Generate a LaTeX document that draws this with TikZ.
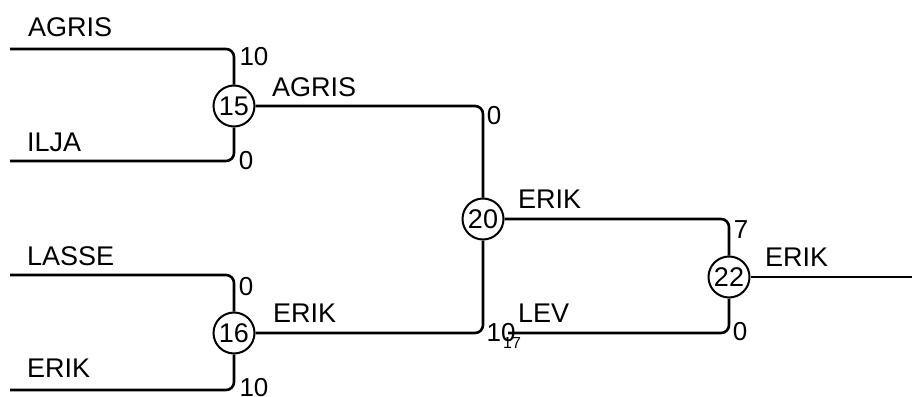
\documentclass[tikz,border=0pt]{standalone}
\usepackage{fontspec}
\setmainfont{Liberation Sans}
\begin{document}
\begin{tikzpicture}[x=1pt, y=-1pt,
    match/.style={circle, draw, line width=2pt, minimum size=41pt,
        inner sep=0pt, font=\fontsize{27}{27}\selectfont},
    wire/.style={line width=2.6pt, rounded corners=8pt},
    who/.style={anchor=base west, inner sep=0pt, font=\fontsize{27}{27}\selectfont},
    pts/.style={inner sep=0pt, font=\fontsize{26}{26}\selectfont},
    tiny/.style={inner sep=0pt, font=\fontsize{16}{16}\selectfont}
]
    \useasboundingbox (0,0) rectangle (912,396);

    % Round 1 entries
    \coordinate (p1) at (10,49);
    \coordinate (p2) at (10,161);
    \coordinate (p3) at (10,275);
    \coordinate (p4) at (10,390);
    \node[who] (n1) at (28,37) {AGRIS};
    \node[who] (n2) at (27,151) {ILJA};
    \node[who] (n3) at (27,265) {LASSE};
    \node[who] (n4) at (27,377) {ERIK};

    % Round 1 matches
    \node[match] (m15) at (234,106) {15};
    \node[match] (m16) at (234,333) {16};
    \draw[wire] (p1) -| (m15);
    \draw[wire] (p2) -| (m15);
    \draw[wire] (p3) -| (m16);
    \draw[wire] (p4) -| (m16);
    \node[pts] (s1) at (254,57) {10};
    \node[pts] (s2) at (246,161) {0};
    \node[pts] (s3) at (246,287) {0};
    \node[pts] (s4) at (254,388) {10};

    % Round 2
    \node[match] (m20) at (483,219) {20};
    \draw[wire] (m15) -| (m20);
    \draw[wire] (m16) -| (m20);
    \node[who] (n5) at (272,96) {AGRIS};
    \node[who] (n6) at (273,322) {ERIK};
    \node[pts] (s5) at (494,116) {0};
    \node[pts] (s6) at (501,333) {10};
    \node[tiny] (s7) at (512,343) {17};

    % Final
    \node[match] (m22) at (729,277) {22};
    \coordinate (p5) at (508,333);
    \coordinate (p6) at (912,277);
    \draw[wire] (m20) -| (m22);
    \draw[wire] (p5) -| (m22);
    \draw[wire] (m22) -- (p6);
    \node[who] (n7) at (518,208) {ERIK};
    \node[who] (n8) at (518,322) {LEV};
    \node[who] (n9) at (765,266) {ERIK};
    \node[pts] (s8) at (741,230) {7};
    \node[pts] (s9) at (740,332) {0};
\end{tikzpicture}
\end{document}
